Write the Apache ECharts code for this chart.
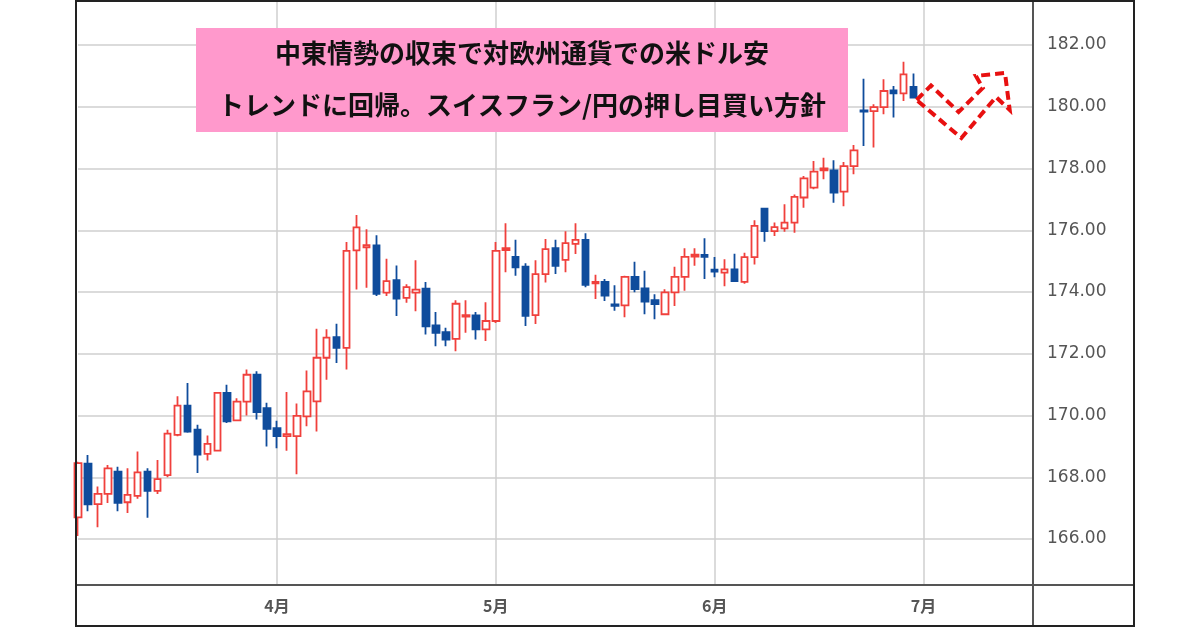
<!DOCTYPE html>
<html>
<head>
<meta charset="utf-8">
<script src="https://cdn.jsdelivr.net/npm/echarts@6/dist/echarts.min.js"></script>
<style>
html,body{margin:0;padding:0;background:#fff;}
#chart{width:1200px;height:630px;}
</style>
</head>
<body>
<div id="chart"></div>
<script>
// ---- Data (CHF/JPY daily, 2025) ----
const marDays = [4,5,6,7,10,11,12,13,14,17,18,19,20,21,24,25,26,27,28,31];
const aprDays = [1,2,3,4,7,8,9,10,11,14,15,16,17,18,21,22,23,24,25,28,29,30];
const mayDays = [1,2,5,6,7,8,9,12,13,14,15,16,19,20,21,22,23,26,27,28,29,30];
const junDays = [2,3,4,5,6,9,10,11,12,13,16,17,18,19,20,23,24,25,26,27,30];
const julDays = [1,2,3,4,7,8,9,10,11,14,15,16];

const opens = [
166.70,168.44,167.13,167.46,168.18,167.19,167.40,168.18,167.56,168.07,
169.37,170.32,169.54,168.76,168.86,170.73,169.84,170.45,171.32,170.24,
169.59,169.33,169.33,169.97,170.46,171.87,172.54,172.19,175.35,175.45,
175.51,173.98,174.38,173.81,173.98,174.11,172.92,172.70,172.48,173.20,
173.24,172.79,173.06,175.36,175.14,174.82,173.25,174.58,175.42,175.04,
175.56,175.69,174.28,174.33,173.60,173.57,174.49,174.12,173.74,173.28,
173.99,174.49,175.15,175.20,174.72,174.63,174.73,174.33,175.13,176.70,
175.97,176.06,176.25,177.06,177.38,177.94,177.94,177.25,178.08,179.88,
179.86,179.99,180.53,180.43,180.64];
const closes = [
168.46,167.12,167.46,168.29,167.17,167.43,168.16,167.56,167.94,169.41,
170.32,169.48,168.73,169.08,170.73,169.81,170.45,171.32,170.11,169.57,
169.33,169.40,169.99,170.78,171.87,172.52,172.19,175.33,176.09,175.52,
173.94,174.35,173.79,174.16,174.08,172.89,172.68,172.46,173.62,173.25,
172.79,173.06,175.33,175.42,174.80,173.23,174.58,175.39,174.85,175.58,
175.69,174.23,174.33,173.88,173.55,174.49,174.09,173.69,173.61,173.99,
174.49,175.14,175.21,175.14,174.66,174.73,174.35,175.13,176.14,175.97,
176.10,176.25,177.08,177.68,177.90,178.00,177.22,178.08,178.59,179.84,
179.99,180.51,180.43,181.05,180.30];
const lows = [
166.10,166.90,166.38,167.17,166.90,166.84,167.30,166.69,167.46,168.00,
169.33,169.44,168.14,168.54,168.85,169.76,169.81,170.00,169.87,169.00,
168.94,168.86,168.10,169.65,169.48,171.16,171.70,171.49,174.08,174.14,
173.87,173.87,173.22,173.65,173.38,172.62,172.24,172.24,172.08,172.68,
172.46,172.41,173.00,174.64,174.53,172.90,172.96,174.31,174.58,174.64,
175.23,174.15,173.77,173.71,173.39,173.18,173.99,173.28,173.12,173.28,
173.55,174.04,174.85,174.42,174.48,174.19,174.35,174.27,174.89,175.63,
175.81,175.95,175.92,176.73,177.33,177.65,176.89,176.78,177.81,178.73,
178.68,179.76,179.65,180.19,180.30];
const highs = [
168.50,168.72,167.70,168.40,168.34,168.29,168.83,168.29,168.56,169.54,
170.62,171.05,169.70,169.35,170.75,171.00,170.56,171.49,171.43,170.41,
169.83,170.76,170.39,171.46,172.81,172.79,172.97,175.62,176.49,176.03,
175.84,175.08,174.86,174.25,175.03,174.32,173.35,172.84,173.73,173.73,
173.35,173.67,175.62,176.23,175.69,174.93,175.03,175.72,175.69,175.97,
176.23,175.90,174.56,174.42,174.22,174.53,174.98,174.69,173.93,174.09,
174.82,175.42,175.42,175.74,175.13,175.06,175.24,175.27,176.32,176.72,
176.25,176.84,177.16,177.76,178.24,178.35,178.27,178.21,178.76,180.91,
180.08,180.89,180.67,181.46,181.08];

const yMin = 166, yMax = 182, yStep = 2;
const titleLines = ['中東情勢の収束で対欧州通貨での米ドル安', 'トレンドに回帰。スイスフラン/円の押し目買い方針'];

// ---- Build ----
const pad = d => (d < 10 ? '0' : '') + d;
const categories = [];
const monthStart = {};
[[3, marDays], [4, aprDays], [5, mayDays], [6, junDays], [7, julDays]].forEach(([m, days]) => {
  days.forEach((d, i) => {
    if (i === 0 && m !== 3) monthStart[categories.length] = m + '月';
    categories.push('2025-' + pad(m) + '-' + pad(d));
  });
});
const candleData = opens.map((o, i) => [o, closes[i], lows[i], highs[i]]);
const isMonthStart = idx => monthStart[idx] !== undefined;

const chart = echarts.init(document.getElementById('chart'));
chart.setOption({
  animation: false,
  backgroundColor: '#fff',
  grid: [
    { left: 78, right: 167, top: 45, bottom: 91, containLabel: false },
    { left: 78, right: 167, top: 0, bottom: 45, containLabel: false }
  ],
  xAxis: [
    { gridIndex: 0, type: 'category', data: categories, boundaryGap: false, show: false },
    {
      gridIndex: 1, type: 'category', data: categories, boundaryGap: false,
      axisLine: { show: false },
      axisTick: { show: false },
      axisLabel: {
        interval: (idx) => isMonthStart(idx),
        formatter: (v, idx) => monthStart[idx] || '',
        color: '#555', fontSize: 16, fontWeight: 'bold',
        fontFamily: 'Noto Sans CJK JP', margin: 13
      },
      splitLine: { show: true, interval: (idx) => isMonthStart(idx), lineStyle: { color: '#cfcfcf', width: 1.5 } }
    }
  ],
  yAxis: [
    {
      gridIndex: 0, type: 'value', position: 'right',
      min: yMin, max: yMax, interval: yStep,
      axisLine: { show: false },
      axisTick: { show: false },
      axisLabel: {
        formatter: v => v.toFixed(2),
        color: '#555', fontSize: 17, fontFamily: 'DejaVu Sans', margin: 14
      },
      splitLine: { lineStyle: { color: '#cfcfcf', width: 1.5 } }
    },
    { gridIndex: 1, type: 'value', min: 0, max: 1, show: false, splitLine: { show: false } }
  ],
  series: [{
    type: 'candlestick',
    xAxisIndex: 0, yAxisIndex: 0,
    data: candleData,
    barWidth: 7,
    clip: false,
    itemStyle: {
      color: '#ffffff', color0: '#0f4c9c',
      borderColor: '#f0403c', borderColor0: '#0f4c9c', borderWidth: 1.8
    }
  }],
  graphic: [
    { type: 'rect', z: 100, shape: { x: 196, y: 28, width: 652, height: 104 }, style: { fill: '#ff99cc' } },
    { type: 'text', z: 101, x: 522, y: 53, style: { text: titleLines[0], fill: '#111', font: 'bold 26px "Noto Sans CJK JP"', textAlign: 'center', textVerticalAlign: 'middle' } },
    { type: 'text', z: 101, x: 522, y: 105, style: { text: titleLines[1], fill: '#111', font: 'bold 26px "Noto Sans CJK JP"', textAlign: 'center', textVerticalAlign: 'middle' } },
    { type: 'polygon', z: 102, shape: { points: [[916.6,100],[931,85.5],[958.6,112],[982.8,88],[975.9,75.9],[1005,73],[1009.7,110],[996,97],[961.4,138]] },
      style: { fill: 'none', stroke: '#e81010', lineWidth: 4, lineDash: [9, 5] } },
    { type: 'line', z: 110, shape: { x1: 1033, y1: 1, x2: 1033, y2: 626 }, style: { stroke: '#555', lineWidth: 2 } },
    { type: 'line', z: 110, shape: { x1: 76, y1: 585, x2: 1134, y2: 585 }, style: { stroke: '#555', lineWidth: 2 } },
    { type: 'rect', z: 111, shape: { x: 76, y: 1, width: 1058, height: 625 }, style: { fill: 'none', stroke: '#222', lineWidth: 2 } }
  ]
});
</script>
</body>
</html>
